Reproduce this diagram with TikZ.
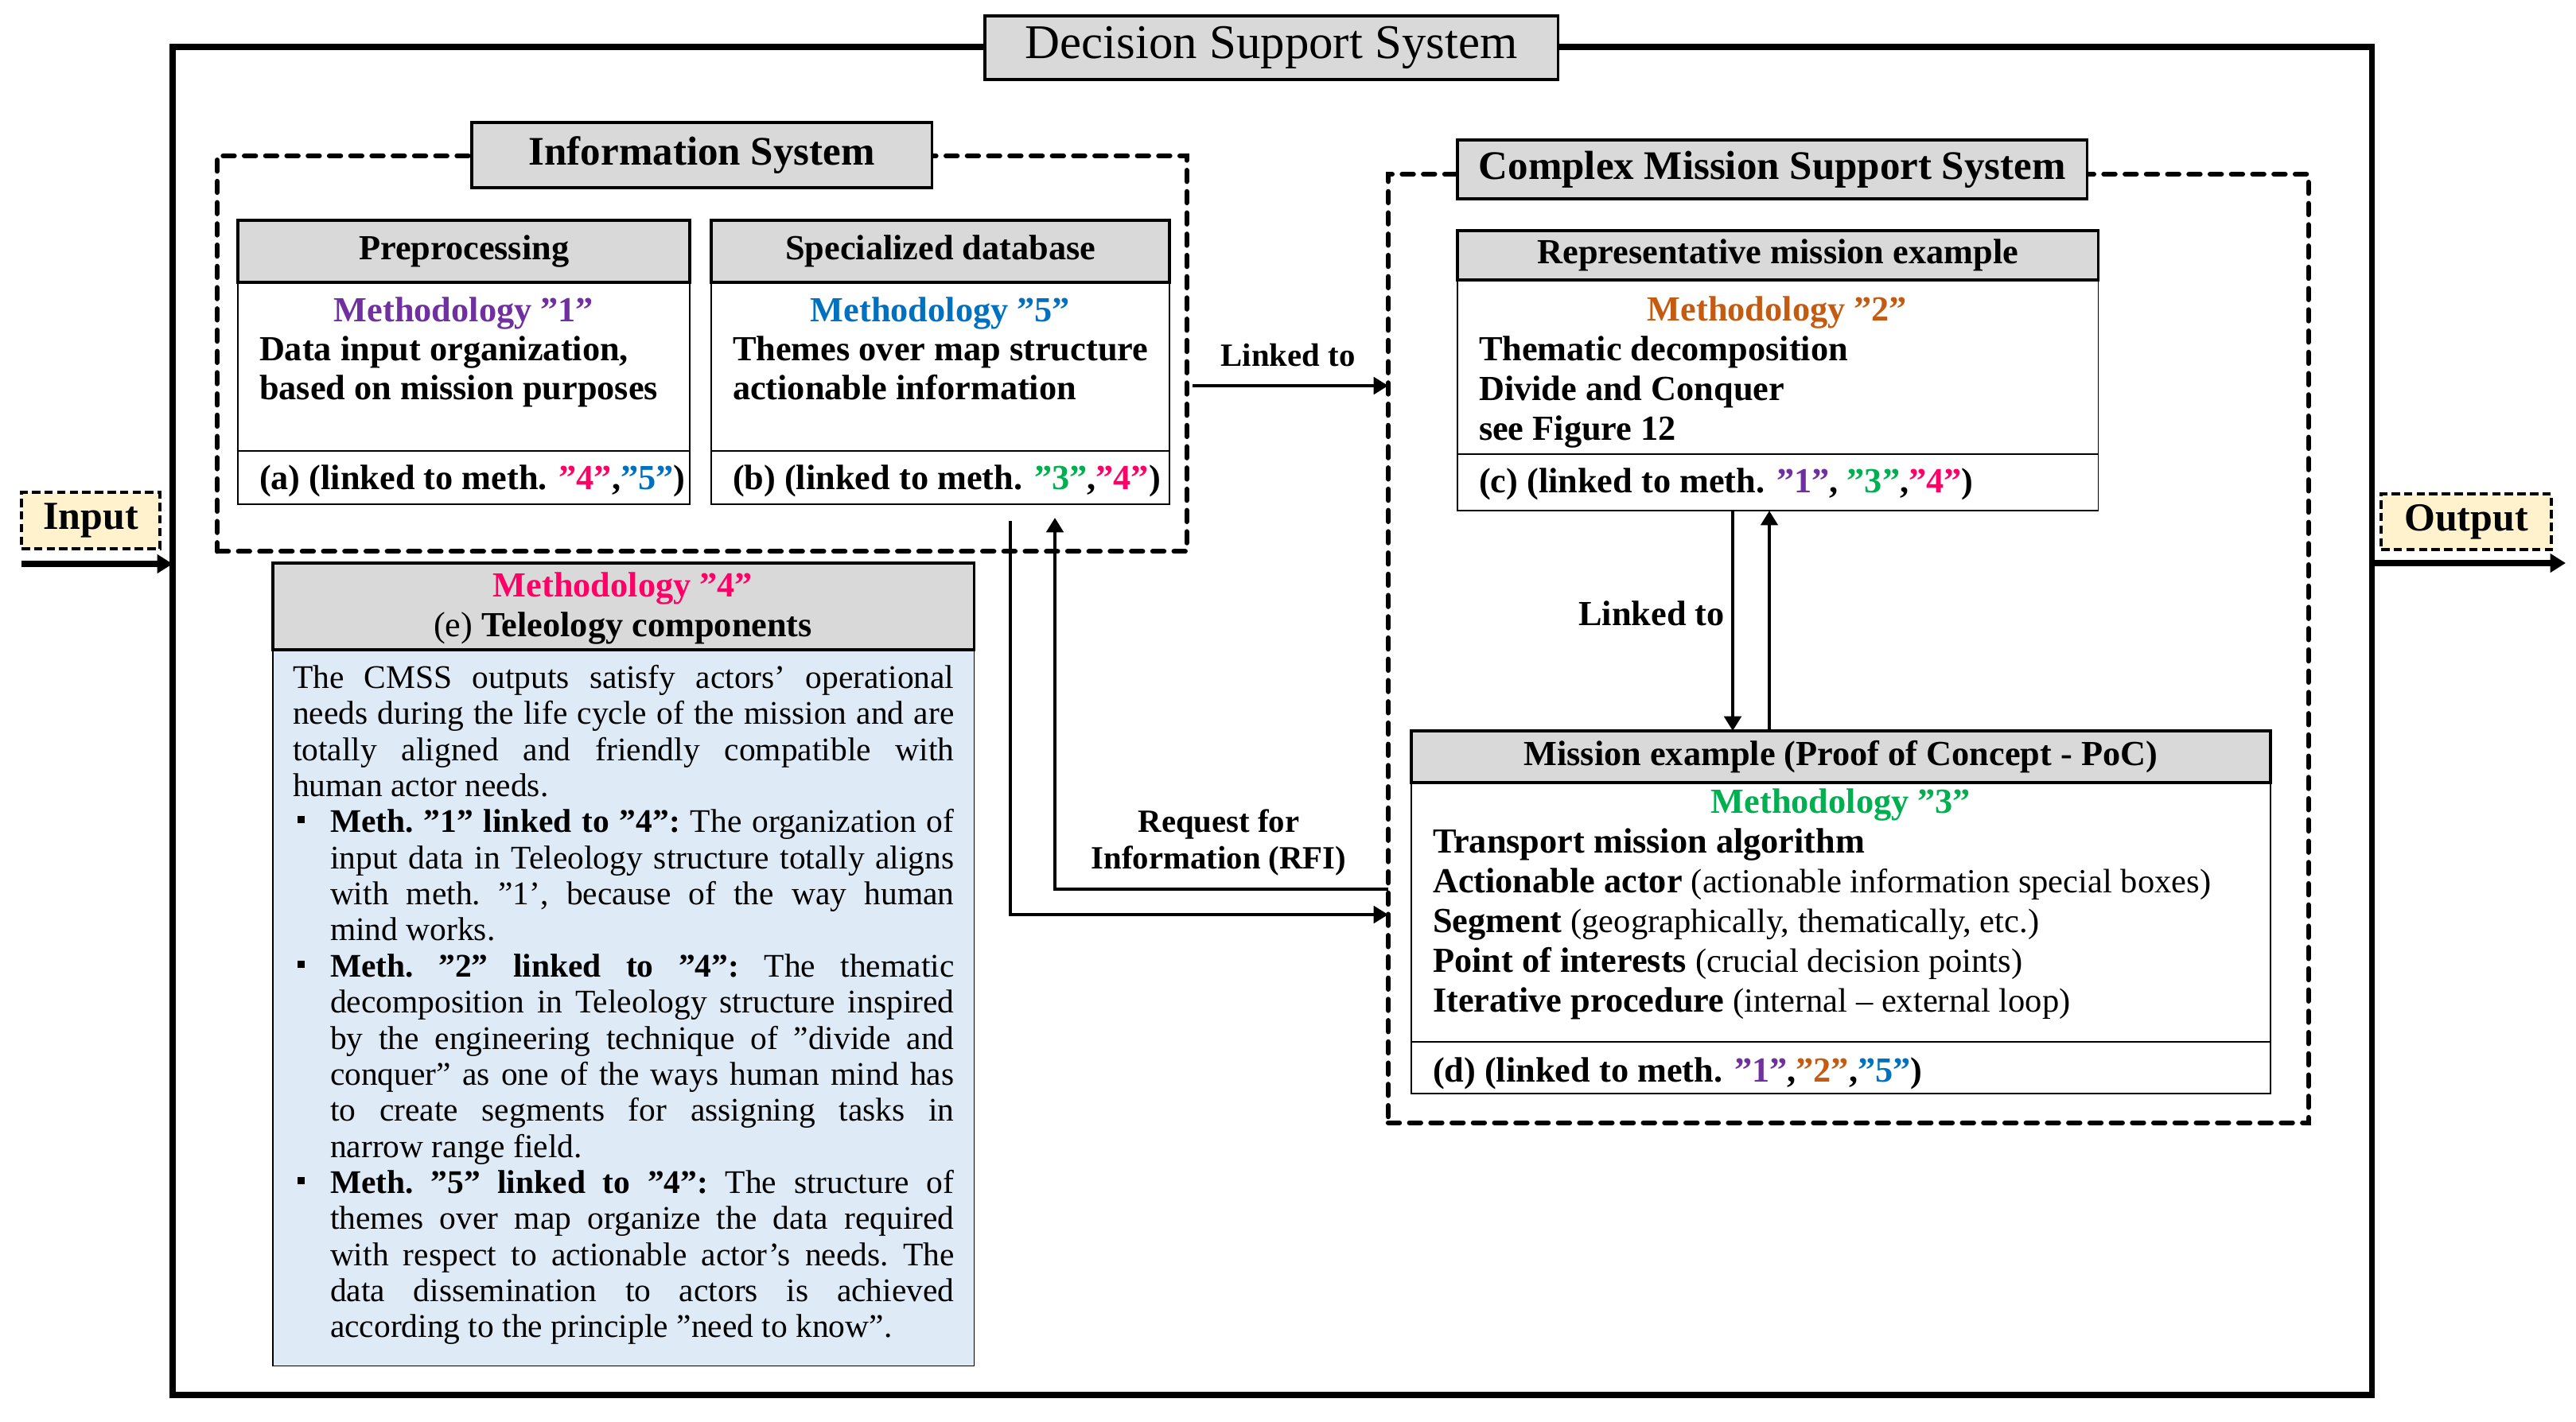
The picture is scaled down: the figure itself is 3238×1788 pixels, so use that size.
\documentclass[tikz,border=0pt]{standalone}
\usepackage{fontspec}
\setmainfont{Liberation Serif}
\usetikzlibrary{arrows.meta}
\definecolor{hdr}{HTML}{D9D9D9}
\definecolor{lblue}{HTML}{DEEBF7}
\definecolor{cream}{HTML}{FFF2CC}
\definecolor{mone}{HTML}{7030A0}
\definecolor{mtwo}{HTML}{C55A11}
\definecolor{mthree}{HTML}{00B050}
\definecolor{mfour}{HTML}{FF0066}
\definecolor{mfive}{HTML}{0070C0}
\newlength\colw \setlength\colw{8.31cm}
\newlength\indw \setlength\indw{0.47cm}
\newcommand\mbsq{\rule[0.28em]{0.22em}{0.22em}}
\newcommand\mjust[1]{\hbox to\colw{\spaceskip=.25em plus 1fil minus .05em\relax#1}}
\newcommand\mlast[1]{\hbox to\colw{#1\hfil}}
\newcommand\mbul[1]{\hbox to\colw{\hbox to\indw{\hskip .06cm\mbsq\hfil}\hbox to\dimexpr\colw-\indw\relax{\spaceskip=.25em plus 1fil minus .05em\relax#1}}}
\newcommand\mindj[1]{\hbox to\colw{\hskip\indw\hbox to\dimexpr\colw-\indw\relax{\spaceskip=.25em plus 1fil minus .05em\relax#1}}}
\newcommand\milast[1]{\hbox to\colw{\hskip\indw #1\hfil}}
\newcommand\rgtext[1]{{\fontsize{12.1}{15}\selectfont\mdseries #1}}
\begin{document}
\begin{tikzpicture}[x=0.01cm,y=-0.01cm,
  every node/.style={inner sep=0pt, outer sep=0pt},
  frame/.style={draw, anchor=north west, line width=0.5pt},
  hbx/.style={draw, fill=hdr, anchor=north west, line width=1.1pt},
  titlebox/.style={draw, fill=hdr, anchor=north west, line width=1pt},
  dbox/.style={draw, anchor=north west, line width=1.8pt, dash pattern=on 4pt off 3.6pt, line cap=round},
  arr/.style={line width=1.3pt, -{Triangle[length=5.2pt,width=6pt]}},
  bigarr/.style={line width=2pt, -{Triangle[length=5.5pt,width=6.5pt]}},
  bx/.style={font=\fontsize{12.6}{15}\selectfont\bfseries},
  txt/.style={anchor=base west, bx},
  ctxt/.style={anchor=base, bx},
  smalllbl/.style={anchor=base, font=\fontsize{11.6}{14}\selectfont\bfseries},
  iobox/.style={draw, fill=cream, anchor=north west, line width=1pt, dash pattern=on 3pt off 1.5pt, font=\fontsize{14.2}{16}\selectfont\bfseries},
  ttl/.style={font=\fontsize{14.5}{17}\selectfont\bfseries}
]
\useasboundingbox (0,0) rectangle (3238,1788);

% Decision Support System
\node[draw, line width=2pt, anchor=north west, minimum width=27.63cm, minimum height=16.94cm] (dss) at (217,59) {};
\node[titlebox, minimum width=7.20cm, minimum height=0.80cm, font=\fontsize{17.3}{20}\selectfont] (dssT) at (1238,20) {Decision Support System};

% Information System
\node[dbox, minimum width=12.18cm, minimum height=4.97cm] (isB) at (273,196) {};
\node[titlebox, ttl, minimum width=5.78cm, minimum height=0.82cm] (isT) at (593,154) {Information System};

% Complex Mission Support System
\node[dbox, minimum width=11.56cm, minimum height=11.92cm] (cmssB) at (1745,219) {};
\node[titlebox, ttl, minimum width=7.91cm, minimum height=0.74cm] (cmssT) at (1832,176) {Complex Mission Support System};

% Preprocessing
\node[frame, fill=white, minimum width=5.68cm, minimum height=3.57cm] (pre) at (299,277) {};
\node[hbx, bx, minimum width=5.68cm, minimum height=0.78cm] (preH) at (299,277) {Preprocessing};
\draw[line width=0.5pt] (pre.west |- 0,567) -- (pre.east |- 0,567);
\node[ctxt, text=mone] (preM) at (583,405) {Methodology ''1''};
\node[txt] (preL1) at (326,453) {Data input organization,};
\node[txt] (preL2) at (326,502) {based on mission purposes};
\node[txt] (preA) at (326,615) {(a) (linked to meth. \textcolor{mfour}{''4''},\textcolor{mfive}{''5''})};

% Specialized database
\node[frame, fill=white, minimum width=5.76cm, minimum height=3.57cm] (spec) at (894,277) {};
\node[hbx, bx, minimum width=5.76cm, minimum height=0.78cm] (specH) at (894,277) {Specialized database};
\draw[line width=0.5pt] (spec.west |- 0,567) -- (spec.east |- 0,567);
\node[ctxt, text=mfive] (specM) at (1182,405) {Methodology ''5''};
\node[txt] (specL1) at (921,453) {Themes over map structure};
\node[txt] (specL2) at (921,502) {actionable information};
\node[txt] (specB) at (921,615) {(b) (linked to meth. \textcolor{mthree}{''3''},\textcolor{mfour}{''4''})};

% Representative mission example
\node[frame, fill=white, minimum width=8.05cm, minimum height=3.52cm] (rep) at (1832,290) {};
\node[hbx, bx, minimum width=8.05cm, minimum height=0.62cm] (repH) at (1832,290) {Representative mission example};
\draw[line width=0.5pt] (rep.west |- 0,571) -- (rep.east |- 0,571);
\node[ctxt, text=mtwo] (repM) at (2234,403) {Methodology ''2''};
\node[txt] (repL1) at (1859,453) {Thematic decomposition};
\node[txt] (repL2) at (1859,503) {Divide and Conquer};
\node[txt] (repL3) at (1859,553) {see Figure 12};
\node[txt] (repC) at (1859,619) {(c) (linked to meth. \textcolor{mone}{''1''}, \textcolor{mthree}{''3''},\textcolor{mfour}{''4''})};

% Mission example (PoC)
\node[frame, fill=white, minimum width=10.79cm, minimum height=4.56cm] (poc) at (1774,919) {};
\node[hbx, bx, minimum width=10.79cm, minimum height=0.65cm] (pocH) at (1774,919) {Mission example (Proof of Concept - PoC)};
\draw[line width=0.5pt] (poc.west |- 0,1310) -- (poc.east |- 0,1310);
\node[ctxt, text=mthree] (pocM) at (2314,1022) {Methodology ''3''};
\node[txt] (pocL1) at (1801,1072) {Transport mission algorithm};
\node[txt] (pocL2) at (1801,1122) {Actionable actor \rgtext{(actionable information special boxes)}};
\node[txt] (pocL3) at (1801,1172) {Segment \rgtext{(geographically, thematically, etc.)}};
\node[txt] (pocL4) at (1801,1222) {Point of interests \rgtext{(crucial decision points)}};
\node[txt] (pocL5) at (1801,1272) {Iterative procedure \rgtext{(internal -- external loop)}};
\node[txt] (pocD) at (1801,1360) {(d) (linked to meth. \textcolor{mone}{''1''},\textcolor{mtwo}{''2''},\textcolor{mfive}{''5''})};

% Methodology 4
\node[frame, fill=lblue, minimum width=8.81cm, minimum height=10.09cm] (m4) at (343,708) {};
\node[hbx, minimum width=8.81cm, minimum height=1.09cm] (m4H) at (343,708) {};
\node[ctxt, text=mfour] (m4M) at (783,750) {Methodology ''4''};
\node[ctxt] (m4E) at (783,800) {\textmd{(e)} Teleology components};
\node[anchor=north west] (m4T) at (368,820) {\vbox{\fontsize{11.8}{12.9}\selectfont\frenchspacing\hsize=\colw
\hbox{}
\mjust{The CMSS outputs satisfy actors' operational}
\mjust{needs during the life cycle of the mission and are}
\mjust{totally aligned and friendly compatible with}
\mlast{human actor needs.}
\mbul{\textbf{Meth. ''1'' linked to ''4'':} The organization of}
\mindj{input data in Teleology structure totally aligns}
\mindj{with meth. ''1', because of the way human}
\milast{mind works.}
\mbul{\textbf{Meth. ''2'' linked to ''4'':} The thematic}
\mindj{decomposition in Teleology structure inspired}
\mindj{by the engineering technique of ''divide and}
\mindj{conquer'' as one of the ways human mind has}
\mindj{to create segments for assigning tasks in}
\milast{narrow range field.}
\mbul{\textbf{Meth. ''5'' linked to ''4'':} The structure of}
\mindj{themes over map organize the data required}
\mindj{with respect to actionable actor's needs. The}
\mindj{data dissemination to actors is achieved}
\milast{according to the principle ''need to know''.}
}};

% Input / Output
\node[iobox, minimum width=1.74cm, minimum height=0.71cm] (inp) at (27,619) {Input};
\node[iobox, minimum width=2.14cm, minimum height=0.70cm] (outp) at (2993,621) {Output};
\coordinate (inS) at (27,709);
\draw[bigarr] (inS) -- (inS -| dss.west);
\coordinate (outE) at (3225,708);
\draw[bigarr] (outE -| dss.east) -- (outE);

% Linked to (IS -> CMSS)
\coordinate (lkS) at (1499,485);
\draw[arr] (lkS) -- (lkS -| cmssB.west);
\node[smalllbl] (lk1) at (1619,460) {Linked to};

% Linked to (vertical)
\coordinate (xd) at (2178,0);
\coordinate (xu) at (2224,0);
\draw[arr] (rep.south -| xd) -- (pocH.north -| xd);
\draw[arr] (pocH.north -| xu) -- (rep.south -| xu);
\node[bx, anchor=base] (lk2) at (2076,786) {Linked to};

% RFI
\coordinate (rA) at (1270,655);
\coordinate (yA) at (0,1150);
\draw[arr] (rA) |- (cmssB.west |- yA);
\coordinate (rB) at (1326,651);
\coordinate (yB) at (0,1118);
\draw[arr] (cmssB.west |- yB) -| (rB);
\node[smalllbl] (rfi1) at (1532,1046) {Request for};
\node[smalllbl] (rfi2) at (1532,1092) {Information (RFI)};
\end{tikzpicture}
\end{document}
